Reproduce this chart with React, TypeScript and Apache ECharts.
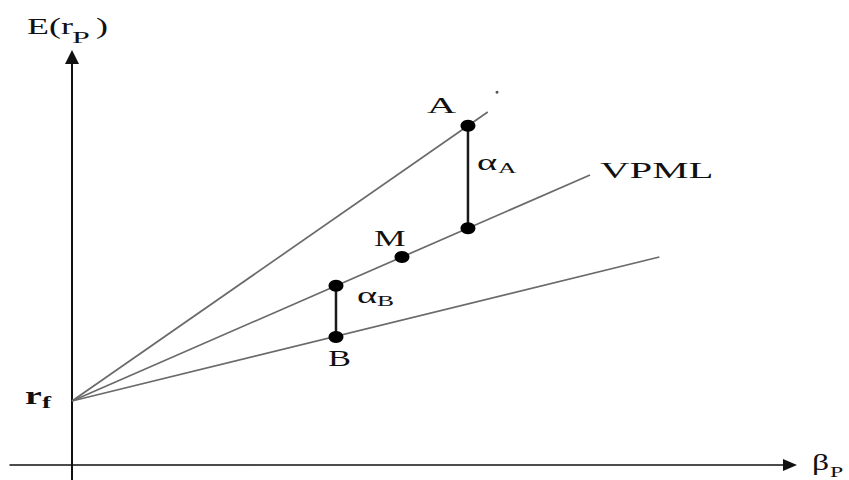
import React, { useEffect, useRef } from "react";
import * as echarts from "echarts";

// ---- data (beta, expected return in %) ----
const betaRange = [-0.188, 2.176];
const returnRange = [-0.94, 25.5];
const riskFree = 4;
const rayA = [[0, 4], [1.26, 22.06]];
const rayVPML = [[0, 4], [1.57, 18.13]];
const rayB = [[0, 4], [1.78, 13.0]];
const alphaASegment = [[1.2, 14.8], [1.2, 21.2]];
const alphaBSegment = [[0.8, 8.0], [0.8, 11.2]];
const pointA = [1.2, 21.2];
const pointM = [1.0, 13.0];
const pointB = [0.8, 8.0];
const portfolioPoints = [pointA, [1.2, 14.8], pointM, [0.8, 11.2], pointB];
const strayDot = [[1.288, 23.3]];

const SERIF = "'Liberation Serif', 'Times New Roman', serif";

function txt(text: string, x: number, y: number, size: number, sx: number, bold = false) {
  return {
    type: "text",
    x,
    y,
    scaleX: sx,
    scaleY: 1,
    silent: true,
    z: 10,
    style: {
      text,
      fontSize: size,
      fontFamily: SERIF,
      fontWeight: bold ? "bold" : "normal",
      fill: "#111",
      align: "left",
      verticalAlign: "middle",
      textAlign: "left",
      textVerticalAlign: "middle",
    },
  };
}

export default function App() {
  const ref = useRef<HTMLDivElement>(null);
  useEffect(() => {
    if (!ref.current) return;
    const chart = echarts.init(ref.current, null, { renderer: "svg" });
    const axisCommon = {
      type: "value" as const,
      axisTick: { show: false },
      axisLabel: { show: false },
      splitLine: { show: false },
    };
    const rayStyle = { color: "#6a6a6a", width: 1.7 };
    const segStyle = { color: "#1a1a1a", width: 2.5 };
    chart.setOption({
      animation: false,
      backgroundColor: "#ffffff",
      grid: { left: 10, right: 59, top: 57, bottom: 0 },
      xAxis: {
        ...axisCommon,
        min: betaRange[0],
        max: betaRange[1],
        axisLine: {
          show: true,
          onZero: true,
          symbol: ["none", "triangle"],
          symbolSize: [12, 14],
          lineStyle: { color: "#111", width: 1.5 },
        },
      },
      yAxis: {
        ...axisCommon,
        min: returnRange[0],
        max: returnRange[1],
        axisLine: {
          show: true,
          onZero: true,
          symbol: ["none", "triangle"],
          symbolSize: [14, 14],
          lineStyle: { color: "#111", width: 2 },
        },
      },
      series: [
        { type: "line", data: rayA, symbol: "none", lineStyle: rayStyle, silent: true },
        { type: "line", data: rayVPML, symbol: "none", lineStyle: rayStyle, silent: true },
        { type: "line", data: rayB, symbol: "none", lineStyle: rayStyle, silent: true },
        { type: "line", data: alphaASegment, symbol: "none", lineStyle: segStyle, silent: true },
        { type: "line", data: alphaBSegment, symbol: "none", lineStyle: segStyle, silent: true },
        {
          type: "scatter",
          data: portfolioPoints,
          symbol: "circle",
          symbolSize: [15, 12],
          itemStyle: { color: "#000", opacity: 1 },
          z: 5,
          silent: true,
        },
        {
          type: "scatter",
          data: strayDot,
          symbol: "circle",
          symbolSize: 3,
          itemStyle: { color: "#555", opacity: 1 },
          silent: true,
        },
      ],
    });

    const px = (p: number[]) =>
      chart.convertToPixel({ xAxisIndex: 0, yAxisIndex: 0 }, p) as number[];
    const a = px(pointA);
    const m = px(pointM);
    const b = px(pointB);
    const vEnd = px(rayVPML[1]);
    const aMid = px([alphaASegment[0][0], (alphaASegment[0][1] + alphaASegment[1][1]) / 2]);
    const bMid = px([alphaBSegment[0][0], (alphaBSegment[0][1] + alphaBSegment[1][1]) / 2]);
    const yTop = px([0, returnRange[1]]);
    const rfP = px([0, riskFree]);
    const xEnd = px([betaRange[1], 0]);

    chart.setOption({
      graphic: [
        txt("A", a[0] - 41, a[1] - 20.5, 23, 1.75),
        txt("M", m[0] - 28, m[1] - 19, 23, 1.55),
        txt("B", b[0] - 8, b[1] + 21.5, 23, 1.5),
        txt("VPML", vEnd[0] + 10, vEnd[1] - 5.5, 24, 1.7),
        txt("α", aMid[0] + 9, aMid[1] - 15.7, 24, 1.6),
        txt("A", aMid[0] + 30, aMid[1] - 9, 15, 1.7),
        txt("α", bMid[0] + 21, bMid[1] - 16.7, 24, 1.6),
        txt("B", bMid[0] + 41, bMid[1] - 10, 15, 1.7),
        txt("E(r", yTop[0] - 45, yTop[1] - 30.5, 24, 1.5),
        txt("P", yTop[0], yTop[1] - 20, 16, 2.0),
        txt(")", yTop[0] + 24, yTop[1] - 30.5, 24, 1.5),
        txt("r", rfP[0] - 47, rfP[1] - 5.4, 26, 1.45, true),
        txt("f", rfP[0] - 30, rfP[1] + 1.5, 16, 1.7, true),
        txt("β", xEnd[0] + 22, xEnd[1] - 3, 24, 1.4),
        txt("P", xEnd[0] + 40, xEnd[1] + 7, 14, 1.7),
      ],
    });

    return () => chart.dispose();
  }, []);
  return (
    <div
      ref={ref}
      style={{ position: "absolute", left: 0, top: 0, width: 849, height: 480 }}
    />
  );
}
